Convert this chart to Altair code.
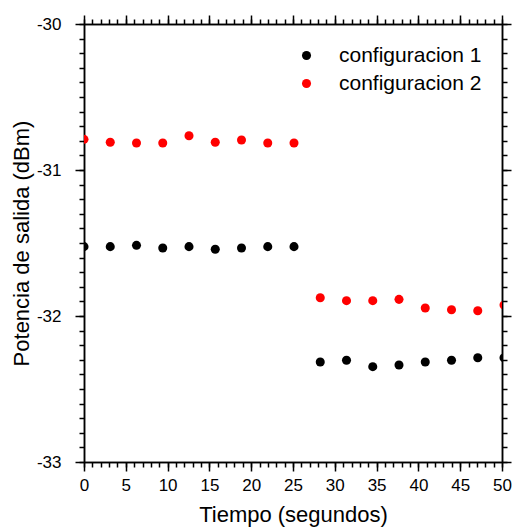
import altair as alt
import pandas as pd

tiempo = [0, 3.14, 6.28, 9.42, 12.56, 15.70, 18.84, 21.98, 25.12,
          28.26, 31.40, 34.54, 37.68, 40.82, 43.96, 47.10, 50.24]
config1 = [-31.525, -31.525, -31.516, -31.534, -31.525, -31.543, -31.534, -31.525, -31.525,
           -32.315, -32.303, -32.347, -32.336, -32.315, -32.303, -32.286, -32.286]
config2 = [-30.790, -30.810, -30.815, -30.815, -30.765, -30.810, -30.795, -30.815, -30.815,
           -31.875, -31.895, -31.895, -31.886, -31.945, -31.957, -31.964, -31.925]
series = ["configuracion 1", "configuracion 2"]
colors = ["#000000", "#ff0000"]
x_major_ticks = [0, 5, 10, 15, 20, 25, 30, 35, 40, 45, 50]
x_minor_ticks = list(range(0, 51))
y_major_ticks = [-33, -32, -31, -30]
y_minor_ticks = [round(-33 + 0.1 * i, 1) for i in range(31)]

rows = []
for name, vals in zip(series, [config1, config2]):
    for t, v in zip(tiempo, vals):
        rows.append({"tiempo": t, "potencia": v, "serie": name})
df = pd.DataFrame(rows)

FONT = "Liberation Sans"

x_scale = alt.Scale(domain=[0, 50], nice=False, zero=False)
y_scale = alt.Scale(domain=[-33, -30], nice=False, zero=False)

def axis(orient, values, size, labels=False, title=None, label_pad=4, title_pad=8, fmt=None):
    kw = dict(orient=orient, values=values, grid=False, ticks=True, tickSize=size,
              tickColor="black", tickWidth=1.5, domainColor="black", domainWidth=1.5,
              labelOverlap=False, labelFlush=False)
    if labels:
        kw.update(labelFont=FONT, labelFontSize=17, labelColor="black", labelPadding=label_pad)
        if fmt:
            kw.update(labelExpr=fmt)
    else:
        kw.update(labels=False)
    if title:
        kw.update(title=title, titleFont=FONT, titleFontSize=22, titleFontWeight="normal",
                  titleColor="black", titlePadding=title_pad)
    else:
        kw.update(title=None)
    return alt.Axis(**kw)

base = alt.Chart(df)

points = base.mark_circle(size=82, opacity=1, clip=True).encode(
    x=alt.X("tiempo:Q", scale=x_scale,
            axis=axis("bottom", x_major_ticks, 9, labels=True, title="Tiempo (segundos)",
                      label_pad=6, title_pad=11, fmt="format(datum.value, 'd')")),
    y=alt.Y("potencia:Q", scale=y_scale,
            axis=axis("left", y_major_ticks, 9, labels=True, title="Potencia de salida (dBm)",
                      label_pad=14, title_pad=3, fmt="'-' + format(abs(datum.value), '.0f')")),
    color=alt.Color("serie:N", scale=alt.Scale(domain=series, range=colors),
                    legend=alt.Legend(orient="none", legendX=212, legendY=21, title=None,
                                      labelFont=FONT, labelFontSize=21, labelColor="black",
                                      symbolType="circle", symbolSize=82, labelOffset=22,
                                      rowPadding=6, padding=0, symbolStrokeWidth=0)),
)

minor_bl = base.mark_circle(opacity=0).encode(
    x=alt.X("tiempo:Q", scale=x_scale, axis=axis("bottom", x_minor_ticks, 5)),
    y=alt.Y("potencia:Q", scale=y_scale, axis=axis("left", y_minor_ticks, 5)),
)
major_tr = base.mark_circle(opacity=0).encode(
    x=alt.X("tiempo:Q", scale=x_scale, axis=axis("top", x_major_ticks, 9)),
    y=alt.Y("potencia:Q", scale=y_scale, axis=axis("right", y_major_ticks, 9)),
)
minor_tr = base.mark_circle(opacity=0).encode(
    x=alt.X("tiempo:Q", scale=x_scale, axis=axis("top", x_minor_ticks, 5)),
    y=alt.Y("potencia:Q", scale=y_scale, axis=axis("right", y_minor_ticks, 5)),
)

chart = alt.layer(points, minor_bl, major_tr, minor_tr).resolve_axis(
    x="independent", y="independent"
).properties(
    width=418, height=438,
    padding={"left": 84, "top": 24, "right": 10, "bottom": 65},
    autosize=alt.AutoSizeParams(type="none"),
).configure_view(stroke=None).configure(background="white")

chart.save("out.html", embed_options={"renderer": "svg", "actions": False})
